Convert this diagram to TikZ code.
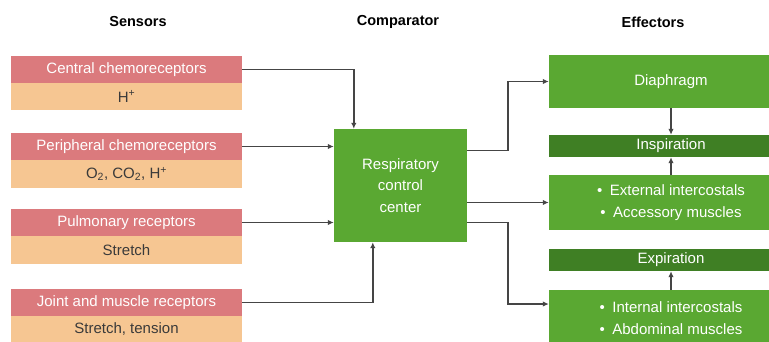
\documentclass[tikz,border=0pt]{standalone}
\usepackage{fontspec}
\setmainfont{Liberation Sans}
\usetikzlibrary{arrows.meta}

\definecolor{sensred}{HTML}{DB7A7D}
\definecolor{sensorange}{HTML}{F6C692}
\definecolor{effgreen}{HTML}{5AA832}
\definecolor{phasegreen}{HTML}{3F7F24}
\definecolor{linegray}{HTML}{454545}
\definecolor{valtext}{HTML}{3A3A3A}

\begin{document}
\begin{tikzpicture}[x = 1pt, y = -1pt, align = center,
        font = \fontsize{15}{21.5}\selectfont,
        title/.style = {font = \fontsize{14.5}{17}\selectfont\bfseries},
        sensorhead/.style = {fill = sensred, text = white, minimum width = 231pt, minimum height = 27pt, inner sep = 0pt},
        sensorval/.style = {fill = sensorange, text = valtext, minimum width = 231pt, minimum height = 27pt, inner sep = 0pt},
        effbox/.style = {fill = effgreen, text = white, minimum width = 244pt, inner sep = 0pt},
        phasebar/.style = {fill = phasegreen, text = white, minimum width = 244pt, minimum height = 22pt, inner sep = 0pt},
        link/.style = {draw = linegray, line width = 1.6pt, -{Latex[length = 6pt, width = 5.5pt]}}]
        \useasboundingbox (0, 0) rectangle (769, 341);
        \clip (0, 0) rectangle (769, 341);

        \node[title] (sensT) at (138, 22) {Sensors};
        \node[title] (compT) at (398, 22) {Comparator};
        \node[title] (effT)  at (653, 22) {Effectors};

        % sensors
        \node[sensorhead] (cent) at (126.5, 69.5) {Central chemoreceptors};
        \node[sensorval] (centV) at (126.5, 96.5) {H\textsuperscript{+}};

        \node[sensorhead] (periph) at (126.5, 146.5) {Peripheral chemoreceptors};
        \node[sensorval, minimum height = 28pt] (periphV) at (126.5, 174) {O\textsubscript{2}, CO\textsubscript{2}, H\textsuperscript{+}};

        \node[sensorhead] (pulm) at (126.5, 222.5) {Pulmonary receptors};
        \node[sensorval, minimum height = 28pt] (pulmV) at (126.5, 250) {Stretch};

        \node[sensorhead] (joint) at (126.5, 302.5) {Joint and muscle receptors};
        \node[sensorval] (jointV) at (126.5, 329.5) {Stretch, tension};

        % comparator
        \node[fill = effgreen, text = white, minimum width = 133pt, minimum height = 113pt, inner sep = 0pt]
            (comp) at (400.5, 185.5) {Respiratory \\ control \\ center};

        % effectors
        \node[effbox, minimum height = 53pt] (diaph) at (671, 81.5) {Diaphragm};
        \node[phasebar] (insp) at (671, 146) {Inspiration};
        \node[effbox, minimum height = 55pt, font = \fontsize{15}{22}\selectfont] (ext) at (671, 202.5)
            {\textbullet\enspace External intercostals \\ \textbullet\enspace Accessory muscles};
        \node[phasebar] (exp) at (671, 260) {Expiration};
        \node[effbox, minimum height = 56pt, font = \fontsize{15}{22}\selectfont] (intc) at (671, 318)
            {\textbullet\enspace Internal intercostals \\ \textbullet\enspace Abdominal muscles};

        \draw[link] (cent.east) -| ([xshift = 20pt]comp.north west);
        \draw[link] (periph.east) -- (comp.west |- periph.east);
        \draw[link] (pulm.east) -- (comp.west |- pulm.east);
        \draw[link] (joint.east) -| ([xshift = 39pt]comp.south west);

        \draw[link] ([yshift = 35pt]comp.east) -- ++(41, 0) |- (diaph.west);
        \draw[link] (comp.east |- ext.west) -- (ext.west);
        \draw[link] ([yshift = -37pt]comp.east) -- ++(41, 0) |- ([yshift = 14pt]intc.west);

        \draw[link] (diaph.south) -- (insp.north);
        \draw[link] (ext.north) -- (insp.south);
        \draw[link] (intc.north) -- (exp.south);
    \end{tikzpicture}
\end{document}
